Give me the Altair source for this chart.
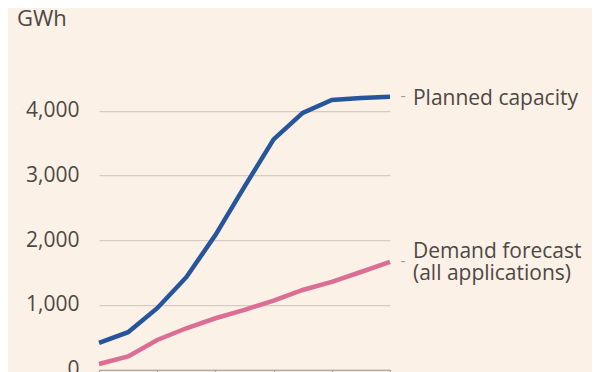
import altair as alt
import pandas as pd

years = list(range(2020, 2031))
planned = [415, 580, 950, 1430, 2080, 2830, 3560, 3970, 4170, 4200, 4220]
demand = [88, 205, 460, 640, 795, 925, 1068, 1232, 1358, 1510, 1668]
series_names = ["Planned capacity", "Demand forecast (all applications)"]
colors = ["#27559b", "#dc6e93"]

rows = []
for y, p, d in zip(years, planned, demand):
    rows.append({"year": y, "value": p, "series": series_names[0]})
    rows.append({"year": y, "value": d, "series": series_names[1]})
df = pd.DataFrame(rows)

last = pd.DataFrame({
    "year": [years[-1], years[-1]],
    "value": [planned[-1], demand[-1]],
    "series": series_names,
    "label": [["Planned capacity"], ["Demand forecast", "(all applications)"]],
})

FONT = "Open Sans"
TXT = "#4d4845"

x = alt.X("year:Q", scale=alt.Scale(domain=[2020, 2030], nice=False),
          axis=alt.Axis(values=years, title=None, grid=False, labels=False,
                        labelOverlap=False, domain=True, domainColor="#a39d97",
                        tickColor="#a39d97", tickWidth=1.2, tickRound=True,
                        tickSize=8))
y = alt.Y("value:Q", scale=alt.Scale(domain=[0, 5000], nice=False),
          axis=alt.Axis(values=[0, 1000, 2000, 3000, 4000], format=",.0f", title=None,
                        grid=True, gridColor="#d6ccc3", gridWidth=1.2, domain=False,
                        ticks=False, labelPadding=20, labelFontSize=21,
                        labelColor=TXT, labelFont=FONT))

color = alt.Color("series:N", scale=alt.Scale(domain=series_names, range=colors), legend=None)

lines = alt.Chart(df).mark_line(strokeWidth=4.5, strokeJoin="miter").encode(x=x, y=y, color=color)

dash = alt.Chart(last).mark_text(text="-", dx=13, dy=-1, fontSize=16, color="#a39d97",
                                 font=FONT).encode(x="year:Q", y="value:Q")

label_planned = alt.Chart(last).transform_filter(
    alt.datum.series == series_names[0]
).mark_text(align="left", baseline="middle", dx=23, dy=2, fontSize=21,
            color=TXT, font=FONT).encode(x="year:Q", y="value:Q", text="label")

label_demand = alt.Chart(last).transform_filter(
    alt.datum.series == series_names[1]
).mark_text(align="left", baseline="middle", dx=23, dy=-10, fontSize=21,
            color=TXT, font=FONT, lineHeight=22).encode(x="year:Q", y="value:Q", text="label")

unit = alt.Chart(pd.DataFrame({"t": ["GWh"]})).mark_text(
    align="left", baseline="alphabetic", fontSize=22, color=TXT, font=FONT).encode(
    x=alt.value(-82), y=alt.value(-20), text="t:N")

chart = alt.layer(lines, dash, label_planned, label_demand, unit).properties(
    width=291, height=323.5,
    background="#fcf1e7",
    padding={"left": 91, "top": 38.2, "right": 202, "bottom": 2},
    autosize=alt.AutoSizeParams(type="none"),
).configure_view(stroke=None)

chart.save("out.html", embed_options={"renderer": "svg", "actions": False})
